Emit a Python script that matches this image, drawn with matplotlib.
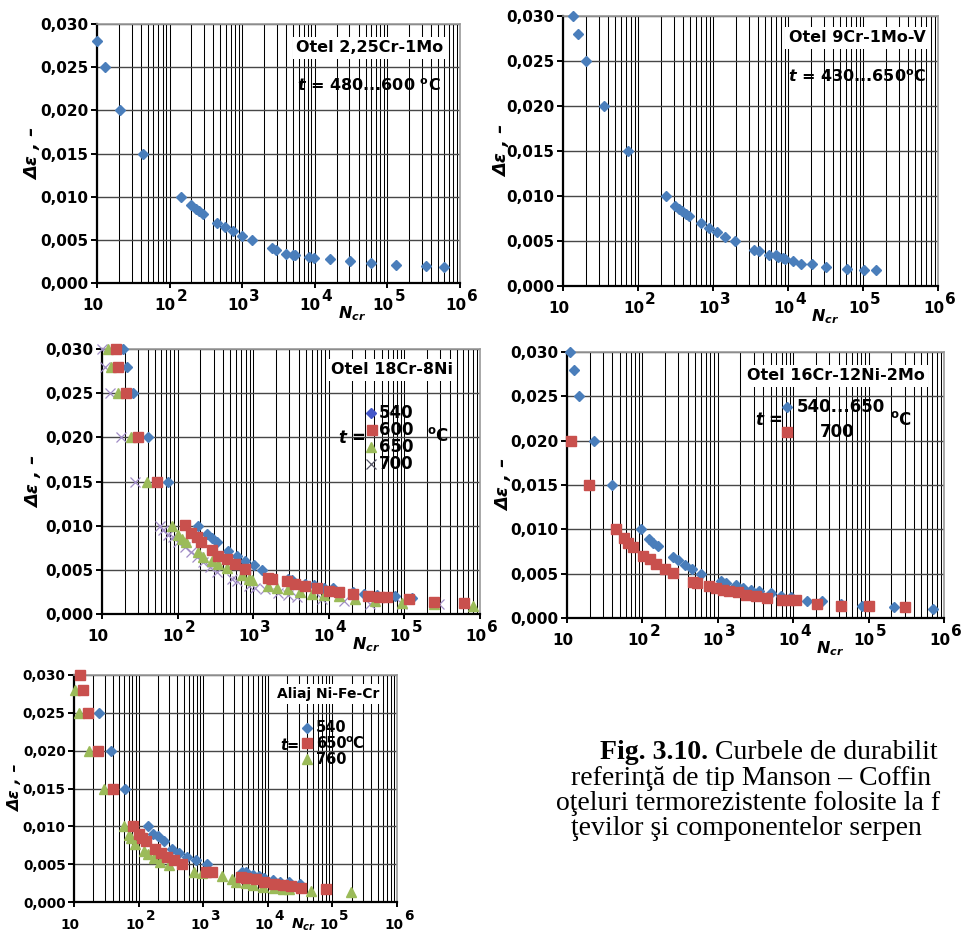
import matplotlib
matplotlib.use("Agg")
import matplotlib.pyplot as plt
from matplotlib.ticker import LogLocator, NullFormatter, FixedLocator
from matplotlib.transforms import offset_copy

plt.rcParams["font.family"] = "DejaVu Sans"
plt.rcParams["mathtext.fontset"] = "custom"
plt.rcParams["mathtext.rm"] = "DejaVu Sans:bold"
plt.rcParams["mathtext.it"] = "DejaVu Sans:italic:bold"
plt.rcParams["mathtext.bf"] = "DejaVu Sans:bold"

W, H = 964, 935
BLUE = "#4a7ebb"
RED = "#c9504d"
GREEN = "#9bbb59"
PURPLE = "#a08cc6"

Y_TICKS = [0.0, 0.005, 0.010, 0.015, 0.020, 0.025, 0.030]
Y_LABELS = ["0,000", "0,005", "0,010", "0,015", "0,020", "0,025", "0,030"]
DECADES = [1, 2, 3, 4, 5, 6]

# Otel 2,25Cr-1Mo, t = 480...600 C
n_cr_mo = [10, 12.8, 20.5, 43, 144, 200, 229, 255, 289, 451, 581, 750, 997, 1384,
           2588, 2905, 4074, 5020, 5306, 8260, 9800, 16400, 30100, 58600, 132000,
           336000, 602000]
de_cr_mo = [0.028, 0.025, 0.020, 0.015, 0.010, 0.0090, 0.0086, 0.0083, 0.0080,
            0.0070, 0.0065, 0.0060, 0.0055, 0.0050, 0.0041, 0.0038, 0.0034, 0.0032,
            0.0033, 0.0030, 0.0029, 0.0028, 0.0025, 0.0023, 0.0021, 0.0020, 0.0019]

# Otel 9Cr-1Mo-V, t = 430...650 C
n_9cr = [13.7, 15.8, 20.2, 35.2, 72.6, 235, 316, 350, 384, 438, 476, 694, 878, 1122,
         1446, 1966, 3556, 4148, 5638, 6909, 7350, 8475, 9200, 11750, 15000, 20800,
         32000, 60900, 102600, 151000]
de_9cr = [0.030, 0.028, 0.025, 0.020, 0.015, 0.010, 0.0089, 0.0086, 0.0083, 0.0080,
          0.0078, 0.0070, 0.0065, 0.0060, 0.0055, 0.0050, 0.0040, 0.0039, 0.0035,
          0.0034, 0.0032, 0.0031, 0.0030, 0.0028, 0.0025, 0.0024, 0.0021, 0.0019,
          0.0018, 0.0018]

# Otel 18Cr-8Ni
n_18_540 = [19.1, 21.2, 26, 41, 75, 185, 242, 282, 329, 470, 605, 779, 1010, 1320,
            2930, 3240, 4870, 6410, 8710, 11500, 21200, 29000, 43300, 76000, 126000]
de_18_540 = [0.030, 0.028, 0.025, 0.020, 0.015, 0.010, 0.0091, 0.0086, 0.0081,
             0.0071, 0.0066, 0.0060, 0.0055, 0.0050, 0.0040, 0.0038, 0.0034, 0.0033,
             0.0030, 0.0029, 0.0025, 0.0023, 0.0021, 0.0020, 0.0018]
n_18_600 = [15.3, 16.4, 20.7, 29.7, 52.8, 124, 150, 179, 204, 282, 347, 446, 576, 779,
            1590, 1760, 2790, 3590, 4870, 6970, 10000, 13800, 20700, 33500, 45700,
            58900, 115000, 247000, 614000]
de_18_600 = [0.030, 0.028, 0.025, 0.020, 0.015, 0.0101, 0.0092, 0.0087, 0.0082,
             0.0072, 0.0066, 0.0062, 0.0057, 0.0051, 0.0041, 0.0040, 0.0037, 0.0034,
             0.0032, 0.0029, 0.0026, 0.0025, 0.0023, 0.0020, 0.0019, 0.0019, 0.0017,
             0.0014, 0.0013]
n_18_650 = [12.1, 13, 16.4, 24, 39.8, 84, 102, 113, 128, 184, 219, 282, 339, 446, 707,
            869, 955, 1590, 2050, 2930, 4170, 5970, 8510, 13500, 22400, 41300, 93000,
            247000, 800000]
de_18_650 = [0.030, 0.028, 0.025, 0.020, 0.015, 0.010, 0.0090, 0.0085, 0.0081,
             0.0070, 0.0065, 0.0060, 0.0057, 0.0052, 0.0044, 0.0040, 0.0038, 0.0032,
             0.0030, 0.0028, 0.0025, 0.0023, 0.0021, 0.0020, 0.0017, 0.0015, 0.0013,
             0.0011, 0.0009]
n_18_700 = [10, 11, 12.8, 17.7, 27.4, 58, 65, 75, 87, 102, 125, 150, 179, 219, 269,
            329, 520, 605, 869, 1060, 1450, 2150, 2930, 3800, 8200, 15800, 35500,
            93000, 285000]
de_18_700 = [0.030, 0.028, 0.025, 0.020, 0.015, 0.010, 0.0095, 0.0090, 0.0087,
             0.0082, 0.0076, 0.0070, 0.0064, 0.0059, 0.0053, 0.0048, 0.0040, 0.0037,
             0.0032, 0.0029, 0.0028, 0.0024, 0.0021, 0.0019, 0.0017, 0.0015, 0.0011,
             0.0011, 0.0011]

# Otel 16Cr-12Ni-2Mo
n_16_lo = [10.8, 12.5, 14.4, 22.6, 40, 97, 122, 138, 161, 254, 296, 362, 458, 602,
           1100, 1280, 1740, 2130, 2750, 3540, 5050, 6830, 9280, 15400, 24200, 42400,
           81700, 215000, 720000]
de_16_lo = [0.030, 0.028, 0.025, 0.020, 0.015, 0.010, 0.0089, 0.0085, 0.0081, 0.0069,
            0.0065, 0.0060, 0.0055, 0.0050, 0.0042, 0.0040, 0.0037, 0.0034, 0.0032,
            0.0030, 0.0028, 0.0025, 0.0024, 0.0019, 0.0019, 0.0016, 0.0014, 0.0012,
            0.0010]
n_16_700 = [11.4, 19.6, 45, 57, 65, 75, 102, 125, 153, 197, 254, 467, 525, 776, 950,
            1160, 1420, 1830, 2350, 3170, 4550, 7180, 8770, 10900, 20900, 42400,
            100000, 303000]
de_16_700 = [0.020, 0.015, 0.010, 0.0090, 0.0085, 0.0080, 0.0070, 0.0066, 0.0061,
             0.0055, 0.0051, 0.0041, 0.0040, 0.0036, 0.0034, 0.0032, 0.0030, 0.0029,
             0.0026, 0.0025, 0.0023, 0.0020, 0.0020, 0.0020, 0.0016, 0.0014, 0.0013,
             0.0012]

# Aliaj Ni-Fe-Cr
n_ni_540 = [24.4, 37, 61.7, 142, 170, 203, 243, 330, 420, 565, 780, 1160, 4000, 4530,
            5960, 7370, 8840, 11900, 15500, 21100, 31000]
de_ni_540 = [0.025, 0.020, 0.015, 0.010, 0.0090, 0.0087, 0.0080, 0.0070, 0.0065,
             0.0060, 0.0055, 0.0050, 0.0040, 0.0039, 0.0036, 0.0034, 0.0032, 0.0029,
             0.0026, 0.0026, 0.0024]
n_ni_650 = [12.4, 14, 16.7, 23.8, 39.8, 83, 100, 113, 130, 182, 225, 276, 350, 473,
            1090, 1385, 3820, 4530, 6550, 8840, 12600, 17000, 22900, 32900, 80500]
de_ni_650 = [0.030, 0.028, 0.025, 0.020, 0.015, 0.010, 0.0090, 0.0085, 0.0080,
             0.0070, 0.0065, 0.0060, 0.0055, 0.0050, 0.0040, 0.0039, 0.0033, 0.0032,
             0.0030, 0.0027, 0.0024, 0.0023, 0.0021, 0.0019, 0.0017]
n_ni_760 = [10.4, 12.1, 17.3, 29.2, 60, 70, 77, 89, 120, 140, 171, 217, 293, 718, 968,
            1980, 2840, 3200, 4570, 5800, 8300, 12600, 17000, 21600, 46900, 197000]
de_ni_760 = [0.028, 0.025, 0.020, 0.015, 0.010, 0.0088, 0.0084, 0.0077, 0.0068,
             0.0064, 0.0058, 0.0053, 0.0049, 0.0039, 0.0038, 0.0034, 0.0030, 0.0027,
             0.0025, 0.0023, 0.0020, 0.0019, 0.0017, 0.0017, 0.0014, 0.0013]

caption_lines = ["referinţă de tip Manson – Coffin",
                 "oţeluri termorezistente folosite la f",
                 "ţevilor şi componentelor serpen"]

MARK = {"D": dict(marker="D", ms=5.3),
        "s": dict(marker="s", ms=7.3),
        "^": dict(marker="^", ms=7.8),
        "x": dict(marker="x", ms=7.5, mew=0.9)}

fig = plt.figure(figsize=(W / 100, H / 100), dpi=100)


def fx(x, y):
    return x / W, 1 - y / H


def make_axes(box, fs, ylab_dx, ncr_dy=-35):
    x0, y0, x1, y1 = box
    ax = fig.add_axes([x0 / W, 1 - y1 / H, (x1 - x0) / W, (y1 - y0) / H])
    ax.set_xscale("log")
    ax.set_xlim(10, 1e6)
    ax.set_ylim(0, 0.030)
    ax.xaxis.set_major_locator(LogLocator(base=10, numticks=12))
    ax.xaxis.set_minor_locator(LogLocator(base=10, subs=range(2, 10), numticks=12))
    ax.xaxis.set_major_formatter(NullFormatter())
    ax.xaxis.set_minor_formatter(NullFormatter())
    ax.yaxis.set_major_locator(FixedLocator(Y_TICKS))
    ax.set_yticklabels(Y_LABELS, fontsize=fs, fontweight="bold")
    ax.tick_params(axis="y", direction="out", length=4.5, width=1.4, pad=1.5)
    ax.tick_params(axis="x", which="major", direction="out", length=3.5, width=1.4)
    ax.tick_params(axis="x", which="minor", length=0)
    ax.grid(True, axis="x", which="both", color="black", linewidth=0.75)
    ax.grid(True, axis="y", which="major", color="#474747", linewidth=1.0)
    ax.set_axisbelow(True)
    for s in ["left", "bottom"]:
        ax.spines[s].set_linewidth(1.6)
        ax.spines[s].set_color("black")
    for s in ["top", "right"]:
        ax.spines[s].set_linewidth(1.2)
        ax.spines[s].set_color("#9a9a9a")

    # decade labels 10, 10^2 ... 10^6 with full-size exponents
    tr = ax.get_xaxis_transform()
    for k in DECADES:
        xv = 10.0 ** k
        if k == 1:
            t = offset_copy(tr, fig=fig, x=-4, y=-27, units="dots")
            ax.text(xv, 0, "10", transform=t, ha="center", va="baseline",
                    fontsize=fs, fontweight="bold", clip_on=False)
        else:
            t1 = offset_copy(tr, fig=fig, x=6, y=-27, units="dots")
            ax.text(xv, 0, "10", transform=t1, ha="right", va="baseline",
                    fontsize=fs, fontweight="bold", clip_on=False)
            t2 = offset_copy(tr, fig=fig, x=7, y=-18, units="dots")
            ax.text(xv, 0, str(k), transform=t2, ha="left", va="baseline",
                    fontsize=fs, fontweight="bold", clip_on=False)

    tn = offset_copy(tr, fig=fig, x=23, y=ncr_dy, units="dots")
    ax.text(1e4, 0, "$N_{cr}$", transform=tn, ha="left", va="baseline",
            fontsize=fs + 0.5, clip_on=False)

    ty = offset_copy(ax.transAxes, fig=fig, x=ylab_dx, y=0, units="dots")
    ax.text(0, 0.5, "Δε , –", transform=ty, rotation=90, ha="center", va="center",
            fontsize=fs + 2, fontweight="bold", fontstyle="italic")
    return ax


def scatter(ax, n, de, kind, color, z=3):
    ax.plot(n, de, linestyle="none", color=color, mec=color, clip_on=False,
            zorder=z, **MARK[kind])


def ftext(x, y, s, fs, **kw):
    fig.text(*fx(x, y), s, fontsize=fs, fontweight="bold", **kw)


def title(x, y, s, fs):
    fig.text(*fx(x, y), s, fontsize=fs, fontweight="bold", ha="center", va="center",
             bbox=dict(facecolor="white", edgecolor="none", pad=2.5), zorder=5)


def key(x, y, kind, color, label, lx, fs):
    fig.lines.append(plt.Line2D([x / W], [1 - y / H], transform=fig.transFigure,
                                linestyle="none", color=color, mec=color,
                                **MARK[kind]))
    ftext(lx, y, label, fs, ha="left", va="center")


# panel 1
ax1 = make_axes((97, 24, 460, 283), 11, -64)
scatter(ax1, n_cr_mo, de_cr_mo, "D", BLUE)
title(370, 48, "Otel 2,25Cr-1Mo", 11.5)
ftext(297, 86, "$t$ = 480...600 $^{\\mathrm{o}}$C", 11.5, ha="left", va="center")

# panel 2
ax2 = make_axes((563, 16, 938, 286), 11, -61)
scatter(ax2, n_9cr, de_9cr, "D", BLUE)
title(857, 38, "Otel 9Cr-1Mo-V", 11.5)
ftext(788, 77, "$t$ = 430...650$^{\\mathrm{o}}$C", 11.5, ha="left", va="center")

# panel 3
ax3 = make_axes((102, 349, 480, 614), 11, -68)
scatter(ax3, n_18_700, de_18_700, "x", PURPLE)
scatter(ax3, n_18_650, de_18_650, "^", GREEN)
scatter(ax3, n_18_540, de_18_540, "D", BLUE)
scatter(ax3, n_18_600, de_18_600, "s", RED)
title(392, 370, "Otel 18Cr-8Ni", 11.5)
ftext(338, 438, "$t$ =", 12, ha="left", va="center")
key(371, 413, "D", "#4457c8", "540", 379, 12)
key(372, 430, "s", RED, "600", 379, 12)
key(371, 447, "^", GREEN, "650", 379, 12)
key(371, 464, "x", "#555566", "700", 379, 12)
ftext(427, 436, "$^{\\mathrm{o}}$C", 12, ha="left", va="center")

# panel 4
ax4 = make_axes((567, 352, 944, 618), 11, -63)
scatter(ax4, n_16_lo, de_16_lo, "D", BLUE)
scatter(ax4, n_16_700, de_16_700, "s", RED)
title(836, 376, "Otel 16Cr-12Ni-2Mo", 11.5)
ftext(755, 420, "$t$ =", 12, ha="left", va="center")
key(787, 407, "D", BLUE, "540...650", 797, 12)
key(787, 432, "s", RED, "700", 820, 12)
ftext(890, 420, "$^{\\mathrm{o}}$C", 12, ha="left", va="center")

# panel 5
ax5 = make_axes((74, 675, 397, 902), 9.8, -58, ncr_dy=-27)
scatter(ax5, n_ni_760, de_ni_760, "^", GREEN)
scatter(ax5, n_ni_540, de_ni_540, "D", BLUE)
scatter(ax5, n_ni_650, de_ni_650, "s", RED)
title(328, 694, "Aliaj Ni-Fe-Cr", 10)
ftext(280, 745, "$t$=", 10.5, ha="left", va="center")
key(307, 728, "D", BLUE, "540", 316, 10.5)
key(307, 743, "s", RED, "650", 316, 10.5)
key(307, 759, "^", GREEN, "760", 316, 10.5)
ftext(345, 744, "$^{\\mathrm{o}}$C", 10.5, ha="left", va="center")

# caption
cap_fs = 20
t_fig = fig.text(*fx(600, 759), "Fig. 3.10.", fontsize=cap_fs, fontweight="bold",
                 family="Liberation Serif", va="baseline", ha="left")
fig.canvas.draw()
bb = t_fig.get_window_extent(renderer=fig.canvas.get_renderer())
fig.text(*fx(bb.x1 + 7, 759), "Curbele de durabilit", fontsize=cap_fs,
         family="Liberation Serif", va="baseline", ha="left")
for (x, y), line in zip([(571, 785), (556, 810), (571, 835)], caption_lines):
    fig.text(*fx(x, y), line, fontsize=cap_fs, family="Liberation Serif",
             va="baseline", ha="left")

fig.savefig("out.png", dpi=100)
